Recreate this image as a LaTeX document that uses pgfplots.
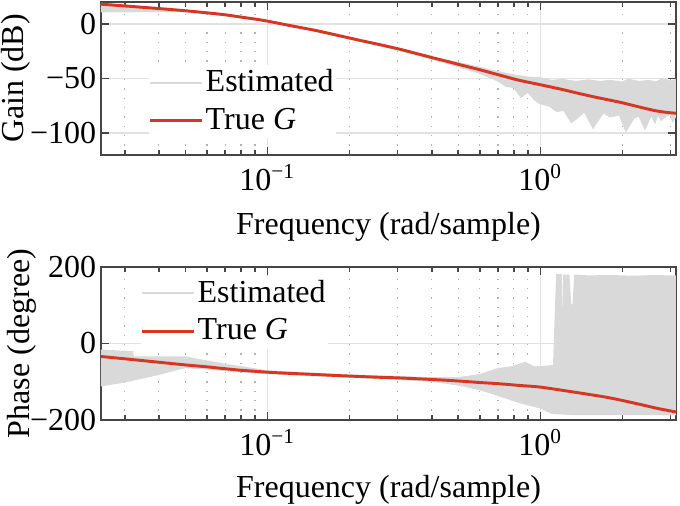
\documentclass[border=0pt]{standalone}
\usepackage{fontspec}
\setmainfont{Liberation Serif}
\usepackage{pgfplots}
\pgfplotsset{compat=1.18}
\definecolor{estcol}{RGB}{217,217,217}
\definecolor{truecol}{RGB}{214,55,35}
\definecolor{axcol}{RGB}{70,70,70}
\definecolor{gridcol}{RGB}{226,226,226}
\pgfplotsset{
  every axis/.append style={
    scale only axis, width=215.625pt, height=57.375pt,
    xmin=0.0245437, xmax=3.14159,
    xtick={0.1,1}, xticklabels={10\textsuperscript{−1},10\textsuperscript{0}},
    minor xtick={0.03,0.04,0.05,0.06,0.07,0.08,0.09,0.2,0.3,0.4,0.5,0.6,0.7,0.8,0.9,2,3},
    xmajorgrids, ymajorgrids, xminorgrids,
    major grid style={gridcol, line width=0.5pt},
    minor grid style={gray!60, line width=0.45pt, dash pattern=on 0.5pt off 3pt},
    axis line style={axcol, line width=0.6pt},
    tick style={axcol, line width=0.6pt},
    major tick length=3pt, minor tick length=2pt,
    tick align=inside,
    font=\fontsize{12}{14}\selectfont,
    yticklabel style={inner sep=0pt, xshift=-1.6pt},
    xlabel={Frequency (rad/sample)},
    legend cell align=left,
    legend style={draw=none, fill=white, inner sep=0pt, row sep=1.1pt,
      nodes={inner sep=0.8pt, text height=9pt, text depth=2.5pt},
      anchor=north west, font=\fontsize{12}{14}\selectfont},
  },
}
\begin{document}
\begin{tikzpicture}
% ---------------- Gain ----------------
\begin{semilogxaxis}[at={(0pt,0pt)}, anchor=south west,
  ymin=-120, ymax=20, ytick={-100,-50,0}, yticklabels={−100,−50,0},
  ylabel={Gain (dB)},
  ylabel style={at={(axis description cs:-0.1339,0.5)}, anchor=base},
  xlabel style={at={(axis description cs:0.5,-0.47)}, anchor=center},
  legend style={at={(0.082,0.59)}}]
\addplot[fill=estcol, draw=estcol, line width=0.6pt,
  legend image code/.code={\draw[estcol, line width=0.8pt] (0pt,0pt) -- (19.5pt,0pt);}] coordinates {
(0.0245437,18.5) (0.03,16.8) (0.04,14.2) (0.05,12.2) (0.07,8.5) (0.1,2.7)
(0.15,-5.8) (0.2,-13) (0.3,-22.5) (0.4,-31) (0.45,-33.5) (0.5,-35.5)
(0.6,-40) (0.7,-44) (0.8,-47) (0.9,-49) (1.0,-49.5) (1.1,-52) (1.2,-51)
(1.35,-53) (1.5,-51.5) (1.65,-53) (1.8,-52) (2.0,-53.5) (2.1,-51) (2.3,-53)
(2.5,-52) (2.65,-53.5) (2.8,-50.5) (3.0,-52.5) (3.14159,-51)
(3.14159,-84) (3.06,-89) (3.0,-83) (2.9,-84) (2.77,-88) (2.7,-82) (2.63,-90)
(2.55,-83) (2.42,-96) (2.3,-84) (2.2,-86) (2.06,-98) (1.95,-83) (1.8,-85)
(1.7,-81) (1.56,-95) (1.45,-80) (1.38,-85) (1.30,-90) (1.22,-79) (1.15,-80)
(1.08,-75) (1.0,-73) (0.95,-69) (0.9,-62) (0.85,-67) (0.8,-58) (0.75,-57)
(0.7,-52) (0.6,-45) (0.5,-39) (0.4,-32) (0.3,-23.5) (0.2,-13.5) (0.15,-6.3)
(0.1,2.2) (0.07,8) (0.05,11.5) (0.04,11.5) (0.03,11.3) (0.0245437,11.3)
};
\addlegendentry{Estimated}
\addplot[truecol, line width=1.1pt, smooth, tension=0.4,
  legend image code/.code={\draw[truecol, line width=1.1pt] (0pt,0pt) -- (19.5pt,0pt);}] coordinates {
(0.0245437,18.0) (0.03,16.4) (0.04,14.0) (0.05,12.0) (0.06,10.1) (0.07,8.3)
(0.08,6.2) (0.09,4.4) (0.1,2.5) (0.12,-1.4) (0.15,-6.0) (0.183,-10.8)
(0.22,-15.3) (0.26,-19.2) (0.303,-23.0) (0.35,-27.0) (0.4,-30.8) (0.45,-34.0)
(0.5,-37.0) (0.6,-42.0) (0.7,-46.5) (0.832,-51.5) (1.0,-55.7) (1.2,-60.0)
(1.38,-63.6) (1.6,-67.2) (1.98,-72.0) (2.3,-76.0) (2.63,-79.4) (2.9,-81.0)
(3.14159,-81.8)
};
\addlegendentry{True \textit{G}}
\end{semilogxaxis}
% ---------------- Phase ----------------
\begin{semilogxaxis}[at={(0pt,-99.375pt)}, anchor=south west,
  ymin=-200, ymax=200, ytick={-200,0,200}, yticklabels={−200,0,200},
  ylabel={Phase (degree)},
  ylabel style={at={(axis description cs:-0.1252,0.5)}, anchor=base},
  xlabel style={at={(axis description cs:0.5,-0.457)}, anchor=center},
  legend style={at={(0.068,0.945)}}]
\addplot[fill=estcol, draw=estcol, line width=0.6pt,
  legend image code/.code={\draw[estcol, line width=0.8pt] (0pt,0pt) -- (19.5pt,0pt);}] coordinates {
(0.0245437,-18) (0.032,-22) (0.0322,-36) (0.05,-36) (0.07,-55) (0.1,-72)
(0.15,-79) (0.2,-83) (0.3,-87) (0.4,-90) (0.5,-90) (0.6,-82) (0.7,-66)
(0.78,-62) (0.88,-50) (0.95,-62) (1.05,-60) (1.12,-58) (1.15,180) (1.19,180)
(1.21,-40) (1.22,178) (1.27,178) (1.29,100) (1.32,100) (1.34,178) (1.5,176)
(1.8,177) (2.2,175) (2.6,177) (3.0,176) (3.14159,176)
(3.14159,-186) (2.5,-185) (1.8,-185) (1.3,-185) (1.1,-182) (1.0,-168)
(0.85,-155) (0.7,-135) (0.6,-120) (0.5,-108) (0.4,-98) (0.3,-93) (0.2,-87)
(0.15,-84) (0.1,-78) (0.07,-70) (0.05,-62) (0.04,-80) (0.03,-100)
(0.0245437,-110)
};
\addlegendentry{Estimated}
\addplot[truecol, line width=1.1pt, smooth, tension=0.4,
  legend image code/.code={\draw[truecol, line width=1.1pt] (0pt,0pt) -- (19.5pt,0pt);}] coordinates {
(0.0245437,-34) (0.03,-40) (0.04,-49) (0.05,-56) (0.06,-61) (0.07,-66)
(0.08,-70) (0.1,-75) (0.12,-78) (0.15,-81) (0.183,-84) (0.25,-88)
(0.303,-90) (0.4,-94) (0.5,-98) (0.6,-102) (0.7,-105) (0.85,-110)
(1.0,-114) (1.3,-126) (1.73,-140) (2.0,-149) (2.28,-158) (2.7,-170)
(3.14159,-179)
};
\addlegendentry{True \textit{G}}
\end{semilogxaxis}
\pgfresetboundingbox
\path (-37.875pt,58.125pt) rectangle (217.125pt,-131.625pt);
\end{tikzpicture}
\end{document}
